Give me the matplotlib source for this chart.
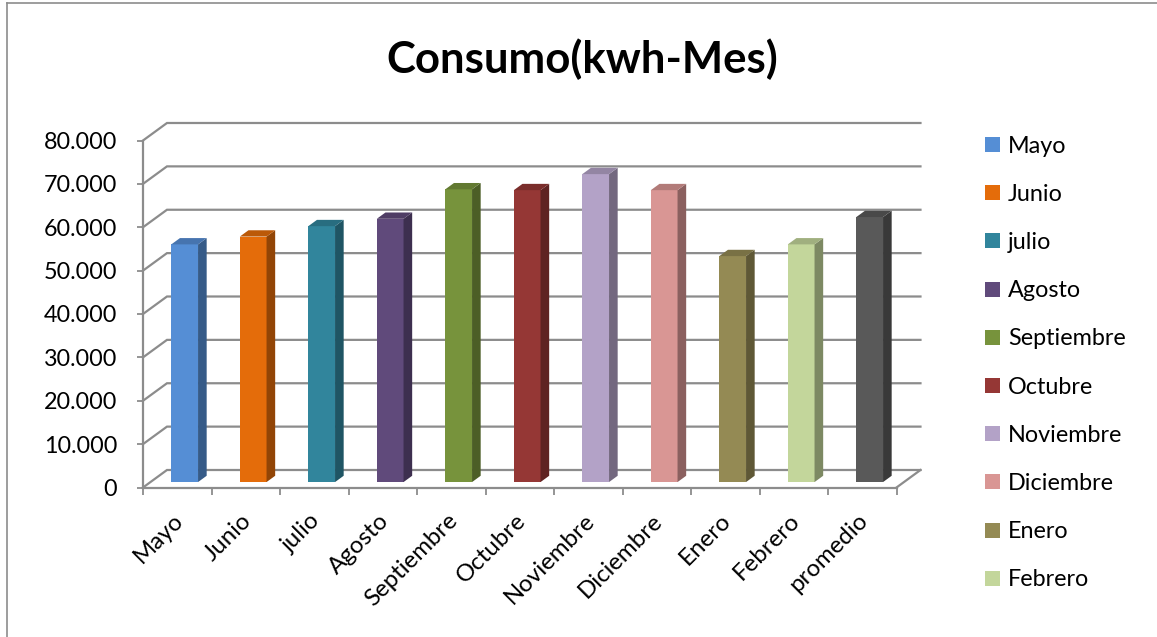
import matplotlib
matplotlib.use('Agg')
import matplotlib.pyplot as plt
from matplotlib.patches import Polygon, Rectangle
from matplotlib.lines import Line2D
from matplotlib.colors import to_rgb
from matplotlib.ticker import FuncFormatter
from matplotlib.transforms import ScaledTranslation

# consumo mensual (kWh)
meses = ['Mayo', 'Junio', 'julio', 'Agosto', 'Septiembre', 'Octubre',
         'Noviembre', 'Diciembre', 'Enero', 'Febrero', 'promedio']
consumo = [54800, 56600, 59000, 60700, 67500, 67300,
           71000, 67300, 52100, 54800, 61100]
colores = ['#558ED5', '#E46C0A', '#31859C', '#604A7B', '#77933C', '#953735',
           '#B3A2C7', '#D99694', '#948A54', '#C3D69B', '#595959']
# la leyenda de Excel solo muestra las 10 primeras entradas
leyenda = meses[:10]
yticks = [0, 10000, 20000, 30000, 40000, 50000, 60000, 70000, 80000]

plt.rcParams['font.family'] = ['Lato', 'DejaVu Sans']

W, H = 1157, 637
fig = plt.figure(figsize=(W / 100, H / 100), dpi=100)

# geometria en pixeles del eje frontal
x0_px, cat_px = 143, 68.5          # x=-0.5 en 143 px, 68.5 px por categoria
y0_px, unit_px = 487.5, 4.3375e-3  # y=0 en 487.5 px
xlim = (-0.8, 11.2)
ylim = (-3000, 86000)
l_px = x0_px + (xlim[0] + 0.5) * cat_px
r_px = x0_px + (xlim[1] + 0.5) * cat_px
b_px = y0_px - ylim[0] * unit_px
t_px = y0_px - ylim[1] * unit_px
ax = fig.add_axes([l_px / W, 1 - b_px / H, (r_px - l_px) / W, (b_px - t_px) / H])
ax.set_xlim(xlim)
ax.set_ylim(ylim)
ax.patch.set_alpha(0)

GRIS = '#8C8C8C'
DX, DY = 0.35, 4035  # profundidad del "piso" 3D
n = len(meses)

# paredes: lateral izquierda y fondo
for v in yticks:
    ax.plot([-0.5, -0.5 + DX, n - 0.5 + DX], [v, v + DY, v + DY],
            color=GRIS, lw=1.6, zorder=1, solid_joinstyle='miter')
ax.plot([n - 0.5, n - 0.5 + DX], [0, DY], color=GRIS, lw=1.6, zorder=1)


def oscurecer(c, f):
    r, g, b = to_rgb(c)
    return (r * f, g * f, b * f)


# barras con cara frontal, lateral y superior
f0, f1 = 0.31, 0.67
ancho = 0.39
xs = [i + f0 * DX for i in range(n)]
ax.bar(xs, consumo, width=ancho, bottom=f0 * DY, color=colores,
       edgecolor='none', zorder=3)
ddx, ddy = (f1 - f0) * DX, (f1 - f0) * DY
for x, v, c in zip(xs, consumo, colores):
    izq, der = x - ancho / 2, x + ancho / 2
    base, tope = f0 * DY, f0 * DY + v
    ax.add_patch(Polygon([(der, base), (der + ddx, base + ddy),
                          (der + ddx, tope + ddy), (der, tope)],
                         closed=True, facecolor=oscurecer(c, 0.64),
                         edgecolor='none', zorder=3))
    ax.add_patch(Polygon([(izq, tope), (der, tope),
                          (der + ddx, tope + ddy), (izq + ddx, tope + ddy)],
                         closed=True, facecolor=oscurecer(c, 0.82),
                         edgecolor='none', zorder=3))

# ejes frontales
for s in ['top', 'right']:
    ax.spines[s].set_visible(False)
ax.spines['left'].set_position(('data', -0.5))
ax.spines['left'].set_bounds(0, 80000)
ax.spines['bottom'].set_position(('data', 0))
ax.spines['bottom'].set_bounds(-0.5, n - 0.5)
for s in ['left', 'bottom']:
    ax.spines[s].set_color(GRIS)
    ax.spines[s].set_linewidth(1.6)

ax.set_yticks(yticks)
ax.yaxis.set_major_formatter(FuncFormatter(lambda v, p: f'{int(v):,}'.replace(',', '.')))
ax.tick_params(axis='y', length=4.5, width=1.3, color=GRIS, pad=14,
               labelsize=16.8, labelcolor='black')

ax.set_xticks(range(n))
ax.set_xticks([i - 0.5 for i in range(n + 1)], minor=True)
ax.set_xticklabels(meses, rotation=45, ha='right', va='top')
ax.tick_params(axis='x', which='major', length=0, pad=16, labelsize=17.3)
ax.tick_params(axis='x', which='minor', length=5, width=1.3, color=GRIS)
for lab in ax.get_xticklabels():
    lab.set_transform(lab.get_transform() + ScaledTranslation(0.1, 0, fig.dpi_scale_trans))

# titulo
fig.text(582 / W, 1 - 73 / H, 'Consumo(kwh-Mes)', ha='center', va='baseline',
         fontsize=31.5, fontweight='bold')

# leyenda
for k, (lab, c) in enumerate(zip(leyenda, colores)):
    cy = 144.5 + 48.2 * k
    fig.add_artist(Rectangle((985 / W, 1 - (cy + 7.5) / H), 15 / W, 15 / H,
                             transform=fig.transFigure, facecolor=c, edgecolor='none'))
    fig.text(1008 / W, 1 - (cy + 8) / H, lab, ha='left', va='baseline', fontsize=16.8)

# borde del grafico
fig.add_artist(Line2D([7 / W, 7 / W], [0, 1 - 3 / H], color=GRIS, lw=1.2))
fig.add_artist(Line2D([7 / W, 1], [1 - 3 / H, 1 - 3 / H], color=GRIS, lw=1.2))

fig.savefig('out.png', dpi=100)
